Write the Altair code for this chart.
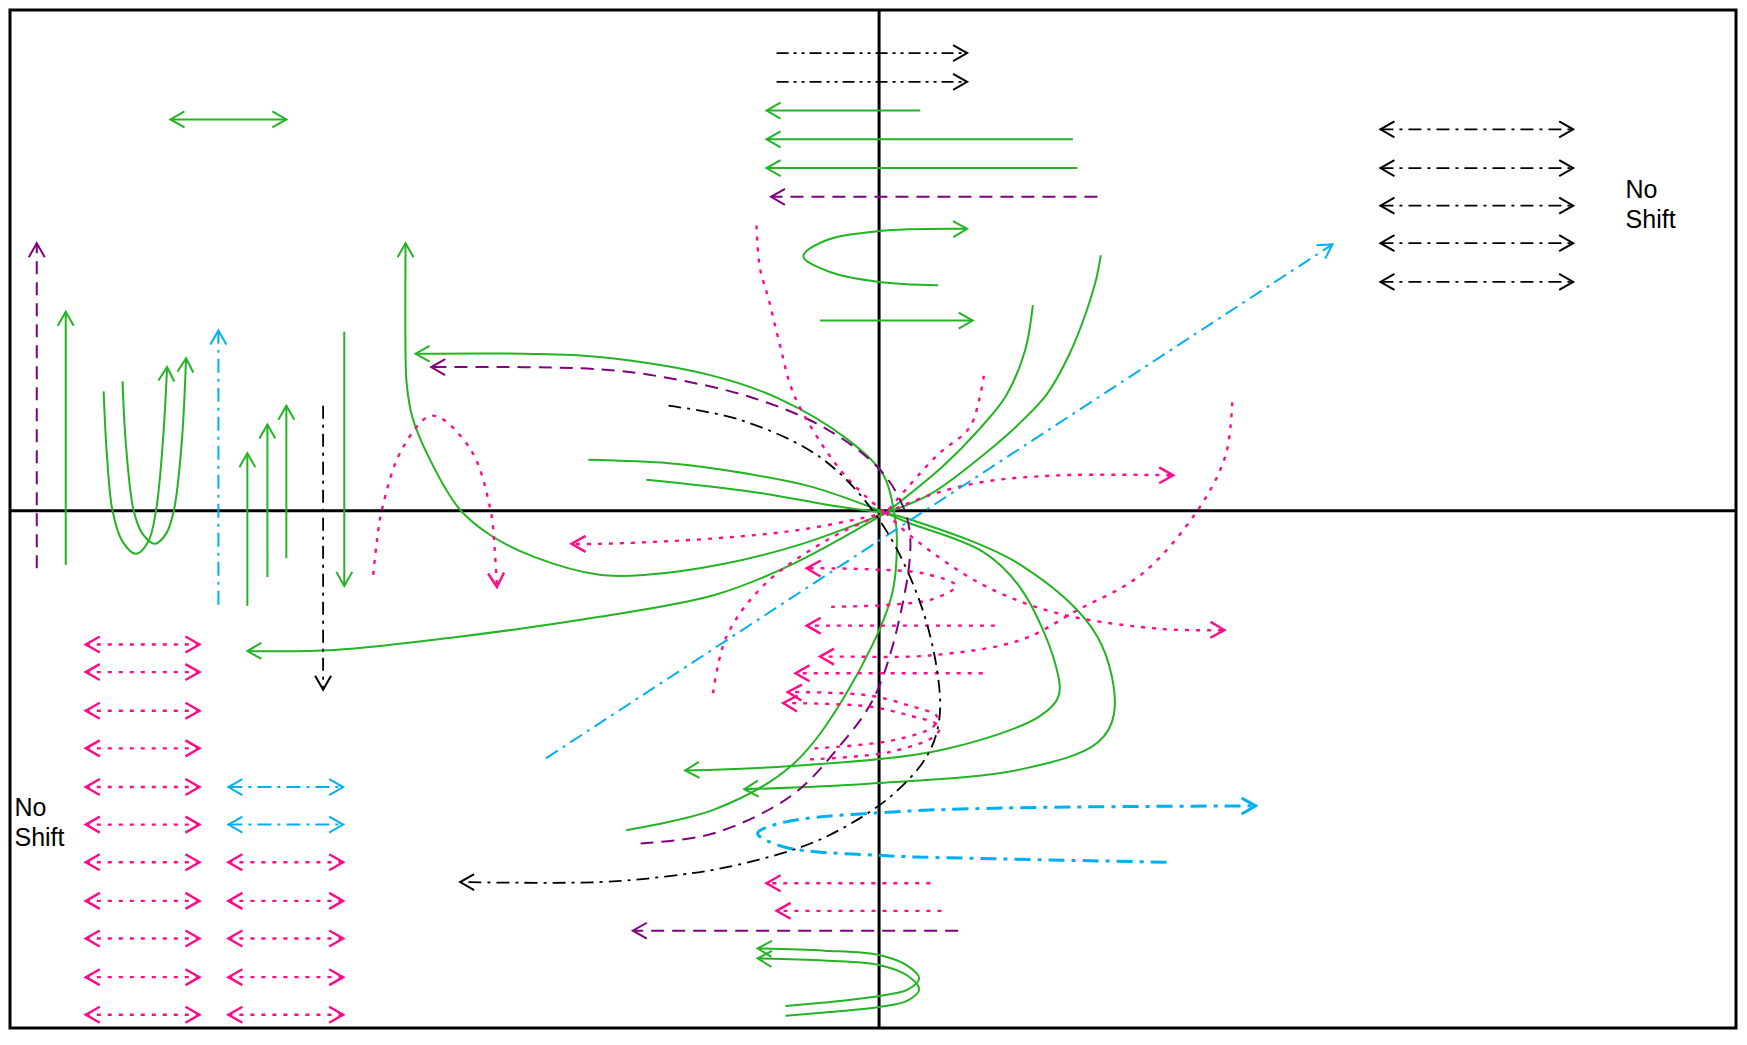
import math
import altair as alt
import pandas as pd

# ---------------- data (positions) ----------------
AXIS_X = [789]
AXIS_Y = [460]

LABEL_TEXT = ["No\nShift", "No\nShift"]
LABEL_X = [1459, 13]
LABEL_Y = [177, 736]

# each path: (arrow heads, xs, ys)
GREEN_PATHS = [
    ("end", [826, 688], [98, 98]),
    ("end", [963, 688], [124, 124]),
    ("end", [967, 688], [150, 150]),
    ("both", [153, 257], [106, 106]),
    ("end", [842, 789, 745, 721, 740, 789, 868], [256, 253, 244, 230, 216, 207, 205]),
    ("end", [736, 873], [288, 288]),
    ("end", [59, 59], [509, 280]),
    ("end", [222, 222], [546, 408]),
    ("end", [240, 240], [520, 382]),
    ("end", [257, 257], [503, 365]),
    ("end", [309, 309], [298, 528]),
    ("end", [93, 96, 101, 110, 122, 133, 140, 146, 150], [352, 410, 460, 488, 499, 488, 460, 400, 330]),
    ("end", [110, 113, 120, 128, 139, 149, 156, 163, 167], [343, 400, 460, 481, 490, 481, 460, 400, 322]),
    ("end", [795, 720, 650, 580, 538, 480, 440, 412, 385, 370, 365, 364, 364],
            [462, 490, 508, 518, 518, 502, 482, 458, 412, 375, 345, 318, 218]),
    ("end", [562, 642, 710, 758, 800, 805, 803, 793, 760, 700, 640, 538, 470, 373],
            [749, 730, 691, 628, 538, 485, 464, 428, 395, 359, 338, 321, 318, 318]),
    ("end", [795, 710, 642, 538, 412, 300, 222], [462, 509, 536, 556, 574, 586, 587]),
    ("none", [528, 600, 642, 727, 795], [414, 417, 422, 438, 462]),
    ("none", [580, 676, 745, 795], [432, 443, 455, 462]),
    ("none", [795, 847, 880, 903, 920, 927], [462, 419, 385, 356, 315, 274]),
    ("none", [795, 835, 882, 915, 940, 960, 975, 984, 988], [462, 445, 410, 381, 354, 318, 280, 250, 229]),
    ("end", [795, 813, 882, 916, 947, 950, 933, 847, 710, 615],
            [462, 470, 497, 530, 598, 628, 646, 676, 691, 695]),
    ("end", [795, 817, 916, 985, 1000, 985, 916, 779, 668],
            [462, 468, 509, 574, 643, 670, 694, 707, 712]),
    ("end", [705, 740, 789, 815, 825, 815, 789, 740, 680], [908, 905, 899, 893, 883, 872, 862, 858, 856]),
    ("end", [705, 740, 789, 815, 825, 815, 789, 740, 680], [917, 914, 909, 903, 893, 881, 871, 867, 865]),
]

PURPLE_PATHS = [
    ("end", [33, 33], [512, 218]),
    ("end", [985, 692], [176, 176]),
    ("end", [860, 568], [840, 840]),
    ("end", [575, 640, 710, 751, 785, 810, 817, 810, 789, 740, 676, 600, 538, 387],
            [761, 752, 718, 676, 628, 545, 485, 455, 422, 385, 358, 340, 332, 330]),
]

PINK_ROW1_Y = [581, 606, 641, 675, 710, 744, 778, 813, 847, 882, 916]
PINK_ROW2_Y = [778, 813, 847, 882, 916]

PINK_PATHS = (
    [("both", [77, 179], [y, y]) for y in PINK_ROW1_Y]
    + [("both", [205, 308], [y, y]) for y in PINK_ROW2_Y]
    + [
        ("none", [679, 682, 690, 700, 713, 751, 779, 795], [202, 240, 269, 310, 356, 419, 449, 462]),
        ("none", [883, 879, 870, 841, 806, 795], [338, 359, 385, 410, 449, 462]),
        ("end", [795, 834, 882, 950, 1053], [462, 446, 434, 428, 428]),
        ("end", [795, 720, 642, 538, 513], [462, 477, 485, 490, 490]),
        ("end", [335, 338, 343, 361, 388, 422, 440, 444, 446], [518, 490, 458, 404, 374, 404, 458, 495, 529]),
        ("none", [640, 652, 686, 745, 795], [625, 574, 527, 485, 462]),
        ("end", [1106, 1100, 1074, 1024, 967, 916, 834, 760, 736], [362, 410, 461, 518, 550, 577, 591, 592, 592]),
        ("end", [795, 820, 882, 950, 1043, 1099], [462, 485, 527, 553, 567, 568]),
        ("end", [746, 800, 837, 858, 830, 779, 724], [547, 545, 540, 528, 517, 513, 512]),
        ("end", [893, 724], [564, 564]),
        ("end", [882, 714], [607, 607]),
        ("end", [731, 800, 838, 841, 815, 779, 707], [675, 668, 655, 646, 636, 627, 624]),
        ("end", [727, 800, 840, 843, 815, 779, 703], [685, 678, 663, 655, 645, 637, 634]),
        ("end", [835, 688], [797, 797]),
        ("end", [845, 697], [822, 822]),
    ]
)

CYAN_PATHS = [
    ("end", [196, 196], [545, 297]),
    ("end", [490, 1196], [684, 219]),
    ("both", [205, 308], [710, 710]),
    ("both", [205, 308], [744, 744]),
]

CYAN_THICK_PATHS = [
    ("end", [1047, 900, 793, 703, 680, 703, 793, 900, 1127], [778, 775, 772, 764, 752, 742, 733, 729, 727]),
]

BLACK_DD_PATHS = [
    ("end", [697, 868], [46, 46]),
    ("end", [697, 868], [72, 72]),
]

BLACK_D_PATHS = (
    [("both", [1239, 1412], [y, y]) for y in [115, 150, 184, 218, 253]]
    + [
        ("end", [290, 290], [365, 622]),
        ("end", [600, 665, 738, 789, 824, 841, 843, 832, 800, 755, 717, 650, 597, 538, 413],
                [365, 378, 413, 468, 538, 604, 649, 682, 718, 748, 765, 783, 791, 796, 796]),
    ]
)

# ---------------- layout / styles ----------------
W, H = 1726, 1018
PAD = 2
PAGE_MARGIN = 8
K = 1747 / 1568  # reference-coordinate units -> page pixels
XD = [(PAGE_MARGIN + PAD) / K, (PAGE_MARGIN + PAD + W) / K]
YD = [7, 928]
SX = W / (XD[1] - XD[0])
SY = H / (YD[1] - YD[0])

STYLES = {
    "green": dict(paths=GREEN_PATHS, color="#22b422", width=2.0, dash=None),
    "purple": dict(paths=PURPLE_PATHS, color="#800080", width=2.0, dash=[13, 8]),
    "pink": dict(paths=PINK_PATHS, color="#ff0a8a", width=2.4, dash=[4, 7]),
    "cyan": dict(paths=CYAN_PATHS, color="#00b0f0", width=2.0, dash=[14, 6, 3, 6]),
    "cyan_thick": dict(paths=CYAN_THICK_PATHS, color="#00b0f0", width=3.0, dash=[16, 7, 4, 7]),
    "black_dd": dict(paths=BLACK_DD_PATHS, color="#000000", width=1.8, dash=[12, 5, 3, 5, 3, 5]),
    "black_d": dict(paths=BLACK_D_PATHS, color="#000000", width=1.8, dash=[13, 6, 3, 6]),
}

CHEVRON = "M -1 -0.57 L 0 0 L -1 0.57"


def head_angle(x0, y0, x1, y1):
    return math.degrees(math.atan2((y1 - y0) * SY, (x1 - x0) * SX)) % 360


line_rows, head_rows = [], []
pid = 0
for sname, st in STYLES.items():
    for head, xs, ys in st["paths"]:
        pid += 1
        for i, (x, y) in enumerate(zip(xs, ys)):
            line_rows.append(dict(pid=pid, i=i, x=x, y=y, style=sname))
        if head in ("end", "both"):
            head_rows.append(dict(x=xs[-1], y=ys[-1], style=sname,
                                  angle=head_angle(xs[-2], ys[-2], xs[-1], ys[-1])))
        if head in ("start", "both"):
            head_rows.append(dict(x=xs[0], y=ys[0], style=sname,
                                  angle=head_angle(xs[1], ys[1], xs[0], ys[0])))

lines = pd.DataFrame(line_rows)
heads = pd.DataFrame(head_rows)

xenc = alt.X("x:Q", scale=alt.Scale(domain=XD, nice=False, zero=False), axis=None)
yenc = alt.Y("y:Q", scale=alt.Scale(domain=YD, nice=False, zero=False, reverse=True), axis=None)

layers = []
layers.append(alt.Chart(pd.DataFrame({"x": AXIS_X})).mark_rule(color="black", strokeWidth=3).encode(x=xenc))
layers.append(alt.Chart(pd.DataFrame({"y": AXIS_Y})).mark_rule(color="black", strokeWidth=3).encode(y=yenc))

for sname, st in STYLES.items():
    kw = dict(interpolate="catmull-rom", color=st["color"], strokeWidth=st["width"])
    if st["dash"] is not None:
        kw["strokeDash"] = st["dash"]
    layers.append(
        alt.Chart(lines[lines["style"] == sname]).mark_line(**kw).encode(
            x=xenc, y=yenc, detail="pid:N", order="i:Q"
        )
    )
    hd = heads[heads["style"] == sname]
    if len(hd):
        layers.append(
            alt.Chart(hd).mark_point(
                shape=CHEVRON, size=784, filled=False, color=st["color"],
                strokeWidth=max(st["width"], 2.0), opacity=1
            ).encode(x=xenc, y=yenc, angle=alt.Angle("angle:Q", scale=None))
        )

labels = pd.DataFrame({"x": LABEL_X, "y": LABEL_Y, "t": LABEL_TEXT})
layers.append(
    alt.Chart(labels).mark_text(
        align="left", baseline="alphabetic", font="Liberation Sans", fontSize=25,
        lineHeight=30, lineBreak="\n", color="black"
    ).encode(x=xenc, y=yenc, text="t:N")
)

chart = (
    alt.layer(*layers)
    .properties(width=W, height=H, padding=PAD, autosize=alt.AutoSizeParams(type="none"), background="white")
    .configure_view(stroke="black", strokeWidth=3)
)

chart.save("out.html", embed_options={"renderer": "svg", "actions": False})
